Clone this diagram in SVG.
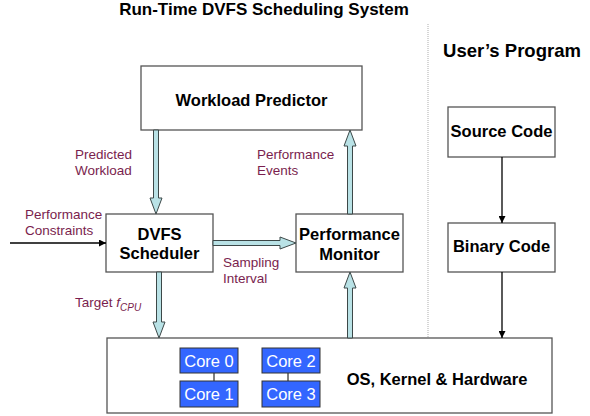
<svg xmlns="http://www.w3.org/2000/svg" width="590" height="416" viewBox="0 0 590 416">
<defs>
<style>
.box{fill:#fff;stroke:#555;stroke-width:1.3}
.bt{font-family:"Liberation Sans",Arial,sans-serif;font-weight:bold;font-size:16.5px;fill:#000;text-anchor:middle}
.hd{font-family:"Liberation Sans",Arial,sans-serif;font-weight:bold;font-size:18.5px;fill:#000;text-anchor:middle}
.lb{font-family:"Liberation Sans",Arial,sans-serif;font-size:13.5px;fill:#7a1e4e}
.core{fill:#3366ff;stroke:#333;stroke-width:1}
.ct{font-family:"Liberation Sans",Arial,sans-serif;font-size:16.5px;fill:#fff;text-anchor:middle}
.fat{fill:#b9e2e6;stroke:#3c4848;stroke-width:1}
.thin{stroke:#000;stroke-width:1.3;fill:none}
</style>
<marker id="ah" viewBox="0 0 10 10" refX="10" refY="5" markerWidth="7" markerHeight="7" markerUnits="userSpaceOnUse" orient="auto"><path d="M0,0 L10,5 L0,10 z" fill="#000"/></marker>
</defs>
<text x="264" y="15" class="bt" style="font-size:17px">Run-Time DVFS Scheduling System</text>
<text x="512" y="57" class="hd">User’s Program</text>
<line x1="428" y1="24" x2="428" y2="338" stroke="#bbb" stroke-width="1.2" stroke-dasharray="1,1"/>

<g id="workload-predictor"><rect class="box" x="141" y="66" width="221" height="64"/><text x="251.5" y="106" class="bt">Workload Predictor</text></g>
<g id="dvfs-scheduler"><rect class="box" x="106" y="214" width="107" height="58"/><text x="159.5" y="240" class="bt">DVFS</text><text x="159.5" y="259" class="bt">Scheduler</text></g>
<g id="performance-monitor"><rect class="box" x="296" y="214" width="107" height="58"/><text x="349.5" y="240" class="bt">Performance</text><text x="349.5" y="260" class="bt">Monitor</text></g>
<g id="source-code"><rect class="box" x="448" y="107" width="107" height="50"/><text x="501.5" y="137" class="bt">Source Code</text></g>
<g id="binary-code"><rect class="box" x="448" y="223" width="107" height="49"/><text x="501.5" y="252" class="bt">Binary Code</text></g>
<g id="os-kernel-hardware"><rect class="box" x="107" y="338" width="445" height="75"/><text x="437" y="385" class="bt">OS, Kernel &amp; Hardware</text>
<line x1="214" y1="373" x2="214" y2="381" stroke="#000" stroke-width="1"/>
<line x1="288" y1="373" x2="288" y2="381" stroke="#000" stroke-width="1"/>
<g id="core0"><rect class="core" x="180" y="348" width="58" height="25"/><text x="209" y="367" class="ct">Core 0</text></g>
<g id="core1"><rect class="core" x="180" y="381" width="58" height="26"/><text x="209" y="400" class="ct">Core 1</text></g>
<g id="core2"><rect class="core" x="262" y="348" width="58" height="25"/><text x="291" y="367" class="ct">Core 2</text></g>
<g id="core3"><rect class="core" x="262" y="381" width="58" height="26"/><text x="291" y="400" class="ct">Core 3</text></g>
</g>

<g id="connectors">
<path class="fat" d="M153.5,130 L158.5,130 L158.5,198 L162,198 L156,214 L150,198 L153.5,198 Z"/>
<path class="fat" d="M156.5,272 L161.5,272 L161.5,322 L165,322 L159,338 L153,322 L156.5,322 Z"/>
<path class="fat" d="M347.5,214 L352.5,214 L352.5,146 L356,146 L350,130 L344,146 L347.5,146 Z"/>
<path class="fat" d="M347.5,338 L352.5,338 L352.5,288 L356,288 L350,272 L344,288 L347.5,288 Z"/>
<path class="fat" d="M213,240.5 L213,245.5 L280,245.5 L280,249 L296,243 L280,237 L280,240.5 Z"/>
<line class="thin" x1="10" y1="243" x2="106" y2="243" marker-end="url(#ah)"/>
<line class="thin" x1="502" y1="157" x2="502" y2="223" marker-end="url(#ah)"/>
<line class="thin" x1="502" y1="272" x2="502" y2="338" marker-end="url(#ah)"/>
<text x="75" y="159" class="lb">Predicted</text><text x="75" y="175" class="lb">Workload</text>
<text x="25" y="219" class="lb">Performance</text><text x="25" y="235" class="lb">Constraints</text>
<text x="257" y="159" class="lb">Performance</text><text x="257" y="175" class="lb">Events</text>
<text x="223" y="267" class="lb">Sampling</text><text x="223" y="283" class="lb">Interval</text>
<text x="75" y="307" class="lb">Target <tspan font-style="italic">f</tspan><tspan font-style="italic" font-size="10" dy="4">CPU</tspan></text>
</g>
</svg>
